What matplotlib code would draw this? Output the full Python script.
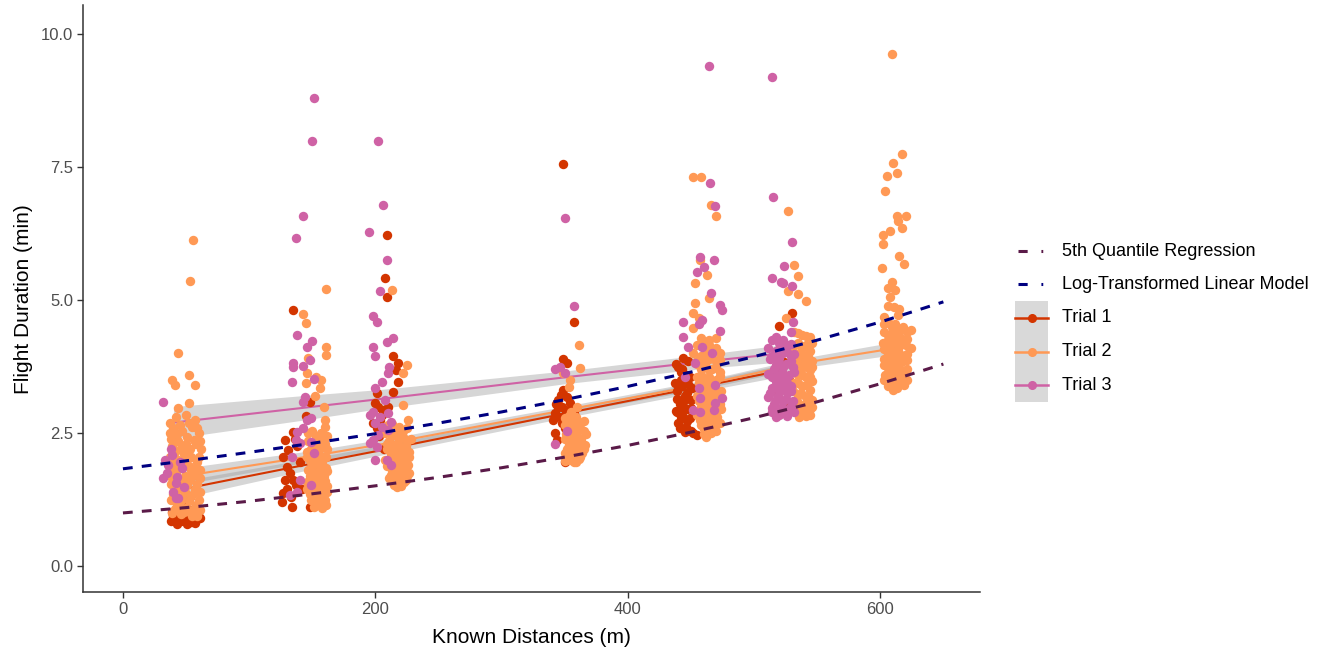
import matplotlib
matplotlib.use("Agg")
import matplotlib.pyplot as plt
from matplotlib.lines import Line2D
from matplotlib.patches import Rectangle

plt.rcParams['font.family'] = ['Liberation Sans', 'DejaVu Sans']

# ---------------- data ----------------
trial_labels = ["Trial 1", "Trial 2", "Trial 3"]
trial_colors = ["#D33500", "#FF9955", "#CF62A5"]

# Trial 1 points (distance jittered, duration)
trial1_x = [38, 42, 46, 50, 54, 58, 61, 40, 44, 48, 52, 56, 60, 39, 47, 55, 43, 51, 57, 45, 49, 53,
            135, 145, 128, 135, 131, 127, 130, 135, 128, 137, 133, 127, 134, 148, 148, 140, 138, 132, 126, 142, 136, 130,
            209, 208, 209, 214, 218, 216, 218, 214, 201, 200, 202, 206, 210, 204, 201, 205, 198, 203, 207, 212,
            349, 357, 349, 352, 349, 352, 345, 348, 354, 342, 346, 352, 357, 341, 348, 342, 344, 350, 345, 351, 355, 347, 343, 350,
            444, 440, 446, 442, 448, 439, 445, 450, 441, 447, 443, 449, 440, 446, 450, 442, 448, 444, 452, 455, 439, 451,
            438, 443, 449, 437, 443, 447, 439, 444, 450, 438, 442, 447, 441, 445,
            530, 520, 521, 524, 528, 518, 526]
trial1_y = [0.85, 0.88, 0.84, 0.86, 0.83, 0.87, 0.90, 0.95, 0.97, 0.93, 0.96, 0.98, 0.92, 1.02, 1.00, 1.05, 0.80, 0.79, 0.82, 1.10, 1.20, 1.30,
            4.81, 2.82, 2.37, 2.52, 2.18, 2.05, 1.86, 1.62, 1.62, 1.52, 1.30, 1.37, 1.11, 1.11, 3.08, 1.95, 2.25, 1.75, 1.20, 1.45, 2.40, 1.45,
            6.22, 5.41, 5.06, 3.95, 3.82, 3.68, 3.46, 3.27, 3.25, 3.06, 2.99, 2.93, 3.00, 2.74, 2.59, 2.85, 2.70, 2.45, 2.20, 2.55,
            7.56, 4.59, 3.89, 3.82, 3.31, 3.18, 3.12, 2.99, 3.06, 2.88, 2.80, 2.80, 2.88, 2.74, 2.69, 2.50, 2.37, 1.95, 3.00, 2.92, 2.95, 3.22, 3.05, 2.60,
            3.91, 3.75, 3.60, 3.50, 3.42, 3.30, 3.20, 3.12, 3.05, 2.95, 2.85, 2.78, 2.70, 2.62, 2.55, 3.65, 3.85, 3.00, 2.50, 2.46, 2.90, 3.35,
            3.80, 3.70, 3.55, 3.45, 3.38, 3.25, 3.15, 3.08, 2.98, 2.92, 2.80, 2.72, 2.60, 2.52,
            4.76, 4.51, 3.72, 3.83, 3.50, 3.30, 3.10]

# Trial 2 points
trial2_x = [55.5, 53, 44, 39, 41, 52, 57, 52, 44, 37,
            40, 47, 55, 60, 38, 44, 51, 58, 62, 41, 48, 54, 39, 45, 52, 59, 42, 49, 56, 61, 38, 44, 51, 57, 40, 47, 54, 60,
            43, 50, 56, 39, 46, 53, 59, 42, 50, 57,
            45, 52, 59, 37, 43, 50, 56, 61, 39, 46, 53, 60, 37, 44, 50, 57, 40, 47, 54, 61, 39, 46, 53, 59, 42, 49, 56, 61,
            38, 45, 52, 58, 41, 48, 55, 61,
            161, 143, 145, 161, 161, 147, 146, 145, 153, 157, 156, 152, 159, 160, 160,
            147, 153, 159, 150, 156, 162, 146, 152, 158, 149, 155, 161, 147, 153, 159, 150, 156, 162, 146, 152, 158, 149, 155,
            161, 151, 157, 148, 160,
            150, 157, 162, 147, 153, 159, 149, 155, 161, 146, 152, 158, 150, 156, 162, 148, 154, 160, 146, 151, 157, 162, 148,
            154, 160, 152, 158,
            213, 225, 222, 222, 226,
            210, 216, 222, 213, 219, 225, 209, 215, 221, 227, 212, 218, 224, 210, 216, 222, 213, 219, 225, 211, 217, 223, 215,
            220, 226, 208,
            213, 219, 225, 208, 216, 222, 228, 211, 218, 224, 209, 215, 221, 227, 212, 218, 224, 209, 215, 221, 227, 212, 218,
            224, 214, 220, 217,
            361, 362, 349, 354, 353,
            350, 356, 362, 353, 359, 365, 351, 357, 363, 354, 360, 366, 352, 358, 364, 355, 361, 350, 357, 363, 355, 360,
            353, 359, 365, 350, 356, 362, 367, 353, 359, 350, 356, 362, 365, 353, 359, 350, 356, 362, 353, 359,
            452, 458, 466, 470, 457, 463, 453, 464, 453, 452, 456, 452, 458, 470, 464,
            455, 461, 467, 473, 458, 464, 470, 455, 461, 467, 473, 458, 464, 470, 456, 462, 468, 474, 459, 465, 471, 456, 462,
            468, 474, 459, 465, 471, 457, 463, 469, 460, 466, 462,
            458, 464, 470, 452, 461, 467, 473, 455, 461, 470, 458, 464, 473, 455, 461, 467, 458, 464, 470, 455, 461, 467, 473,
            458, 464, 470, 455, 461, 467, 473, 458, 464, 470, 460,
            527, 532, 535, 527, 535, 541, 525,
            532, 538, 544, 535, 541, 531, 537, 543, 534, 540, 546, 532, 538, 544, 535, 541, 531, 537, 543, 534, 540, 546, 532,
            538, 544, 536,
            535, 541, 546, 532, 538, 544, 535, 541, 546, 532, 538, 544, 535, 541, 546, 532, 538, 544, 535, 541, 546, 532, 538,
            544, 535, 541,
            609, 617, 610, 605, 613, 604, 613, 620, 614, 608, 617, 602, 602, 615, 619, 601, 609, 606, 612, 608, 606, 611, 615,
            603, 614,
            603, 609, 615, 621, 606, 612, 618, 602, 608, 614, 620, 605, 611, 617, 603, 609, 615, 621, 606, 612, 618, 604, 610,
            616, 607, 613, 610, 619,
            606, 612, 618, 624, 603, 609, 615, 621, 606, 612, 618, 624, 603, 609, 615, 621, 606, 612, 618, 603, 609, 615, 621,
            606, 612, 618, 603, 609, 615, 621, 606, 613]
trial2_y = [6.13, 5.36, 4.00, 3.50, 3.40, 3.60, 3.40, 3.06, 2.97, 2.69,
            2.60, 2.55, 2.62, 2.50, 2.40, 2.35, 2.42, 2.30, 2.20, 2.15, 2.10, 2.05, 1.95, 1.90, 1.88, 1.95, 1.75, 1.70, 1.72,
            1.65, 1.55, 1.50, 1.52, 1.45, 1.35, 1.30, 1.32, 1.25,
            1.15, 1.10, 1.08, 1.00, 0.98, 1.02, 0.95, 2.80, 2.85, 2.75,
            2.65, 2.70, 2.60, 2.50, 2.48, 2.30, 2.38, 2.35, 2.25, 2.22, 2.20, 2.05, 2.05, 2.00, 1.98, 1.85, 1.82, 1.85, 1.80,
            1.80, 1.65, 1.60, 1.62, 1.55, 1.42, 1.40, 1.38, 1.40, 1.25, 1.20, 1.22, 1.15, 1.08, 1.02, 0.95, 1.05,
            5.21, 4.75, 4.57, 4.12, 3.97, 3.91, 3.63, 3.44, 3.55, 3.50, 3.35, 3.20, 3.00, 2.74, 2.61,
            2.50, 2.45, 2.40, 2.30, 2.25, 2.20, 2.15, 2.10, 2.05, 1.95, 1.90, 1.85, 1.80, 1.75, 1.70, 1.60, 1.55, 1.50, 1.45,
            1.40, 1.35, 1.25, 1.20, 1.15, 1.12, 1.30, 2.00, 2.30,
            2.55, 2.50, 2.45, 2.35, 2.33, 2.28, 2.20, 2.18, 2.05, 2.05, 1.98, 1.95, 1.88, 1.82, 1.78, 1.70, 1.65, 1.60, 1.58,
            1.52, 1.45, 1.40, 1.35, 1.30, 1.25, 1.18, 1.10,
            5.19, 3.78, 3.63, 3.03, 2.74,
            2.65, 2.60, 2.55, 2.45, 2.40, 2.35, 2.30, 2.25, 2.20, 2.15, 2.10, 2.05, 2.00, 1.95, 1.90, 1.85, 1.80, 1.75, 1.70,
            1.65, 1.60, 1.58, 1.52, 1.50, 1.90, 2.00,
            2.68, 2.62, 2.60, 2.50, 2.48, 2.42, 2.40, 2.35, 2.30, 2.25, 2.20, 2.15, 2.12, 2.05, 2.02, 1.98, 1.92, 1.88, 1.82,
            1.78, 1.75, 1.72, 1.68, 1.62, 1.58, 1.55, 1.48,
            4.15, 3.72, 3.63, 3.50, 3.36,
            2.78, 2.75, 2.70, 2.62, 2.58, 2.55, 2.48, 2.45, 2.40, 2.35, 2.30, 2.28, 2.20, 2.15, 2.12, 2.05, 2.02, 1.98, 1.95,
            2.20, 2.90, 3.00,
            2.82, 2.80, 2.72, 2.65, 2.65, 2.60, 2.48, 2.52, 2.50, 2.40, 2.38, 2.35, 2.20, 2.28, 2.22, 2.12, 2.10, 2.05, 2.00,
            1.96,
            7.31, 7.31, 6.80, 6.58, 5.75, 5.47, 5.32, 5.04, 4.94, 4.76, 4.66, 4.47, 4.29, 4.29, 4.25,
            4.15, 4.10, 4.05, 4.00, 3.95, 3.90, 3.85, 3.80, 3.75, 3.70, 3.65, 3.60, 3.55, 3.50, 3.45, 3.40, 3.35, 3.30, 3.25,
            3.20, 3.15, 3.10, 3.05, 3.00, 2.95, 2.90, 2.85, 2.80, 2.75, 2.70, 2.65, 2.58, 2.50, 2.42,
            4.20, 4.15, 4.10, 4.00, 3.98, 3.92, 3.88, 3.85, 3.82, 3.75, 3.70, 3.68, 3.58, 3.55, 3.52, 3.48, 3.38, 3.32, 3.28,
            3.20, 3.18, 3.12, 3.05, 3.00, 2.95, 2.90, 2.85, 2.80, 2.75, 2.70, 2.65, 2.60, 2.55, 2.48,
            6.67, 5.66, 5.45, 5.17, 5.11, 4.98, 4.66,
            4.40, 4.35, 4.30, 4.20, 4.15, 4.05, 4.00, 3.95, 3.85, 3.80, 3.75, 3.65, 3.60, 3.55, 3.45, 3.40, 3.30, 3.25, 3.20,
            3.10, 3.05, 3.00, 2.95, 2.90, 2.85, 2.80,
            4.38, 4.32, 4.20, 4.15, 4.10, 4.05, 3.95, 3.90, 3.85, 3.80, 3.72, 3.68, 3.60, 3.55, 3.48, 3.45, 3.38, 3.32, 3.22,
            3.18, 3.12, 3.08, 3.00, 2.95, 2.88, 2.82,
            9.64, 7.76, 7.59, 7.33, 7.39, 7.05, 6.58, 6.58, 6.50, 6.30, 6.35, 6.22, 6.05, 5.83, 5.68, 5.60, 5.34, 5.24, 5.20,
            5.06, 4.90, 4.87, 4.83, 4.68, 4.72,
            4.55, 4.50, 4.45, 4.40, 4.35, 4.30, 4.25, 4.20, 4.15, 4.10, 4.15, 4.05, 4.00, 3.95, 3.90, 3.85, 3.80, 3.87, 3.75,
            3.70, 3.65, 3.60, 3.55, 3.50, 3.45, 3.40, 3.31, 3.40,
            4.60, 4.55, 4.50, 4.45, 4.40, 4.38, 4.32, 4.28, 4.25, 4.20, 4.18, 4.10, 4.08, 4.05, 4.00, 3.98, 3.92, 3.90, 3.85,
            3.78, 3.75, 3.72, 3.70, 3.65, 3.60, 3.58, 3.50, 3.48, 3.42, 3.50, 3.38, 3.35]

# Trial 3 points
trial3_x = [32, 33, 39, 32, 43, 47, 48, 44, 35, 42, 42, 36, 40, 38, 45,
            151, 150, 143, 137, 138, 146, 150, 135, 135, 143, 148, 134, 151, 143, 144, 146, 149, 138, 143, 137, 140, 149, 151,
            134, 149, 138, 132, 140,
            202, 206, 195, 209, 204, 198, 201, 209, 214, 198, 200, 211, 210, 205, 200, 208, 196, 198, 204, 210, 212, 200, 205,
            202, 198, 196, 201, 210, 209, 200, 212,
            350, 357, 342, 346, 350, 352, 342,
            464, 465, 469, 457, 468, 460, 455, 466, 473, 475, 444, 459, 456, 473, 444, 448, 459, 467, 453, 445, 456, 469, 457,
            469, 475, 452, 457, 468,
            514, 515, 530, 524, 514, 521, 523, 530, 531, 529,
            514, 520, 526, 517, 523, 529, 513, 519, 525, 531, 516, 522, 528, 514, 520, 526, 517, 523, 529, 513, 519, 525, 531,
            516, 522, 528, 514, 520, 526, 532,
            517, 523, 529, 511, 520, 526, 532, 514, 520, 529, 517, 523, 532, 511, 520, 526, 517, 523, 529, 514, 520, 526, 511,
            517, 523, 529, 514, 520, 526, 517]
trial3_y = [3.08, 2.00, 2.09, 1.65, 1.67, 1.84, 1.48, 1.28, 1.75, 1.56, 1.28, 1.90, 1.40, 2.20, 1.95,
            8.80, 8.00, 6.58, 6.18, 4.34, 4.12, 4.23, 3.82, 3.74, 3.76, 3.87, 3.46, 3.51, 3.08, 3.18, 2.74, 2.78, 2.52, 2.59,
            2.37, 2.31, 2.33, 2.12, 2.05, 1.52, 1.39, 1.33, 1.62,
            8.00, 6.80, 6.28, 5.75, 5.17, 4.70, 4.60, 4.21, 4.29, 4.12, 3.95, 3.74, 3.63, 3.46, 3.35, 3.12, 2.84, 2.89, 2.80,
            2.88, 2.71, 2.69, 2.61, 2.46, 2.37, 2.31, 2.24, 2.56, 1.99, 1.99, 1.90,
            6.54, 4.89, 3.70, 3.74, 3.63, 2.54, 2.29,
            9.40, 7.20, 6.77, 5.81, 5.75, 5.62, 5.53, 5.13, 4.92, 4.81, 4.60, 4.62, 4.55, 4.42, 4.30, 4.12, 4.12, 4.00, 3.82,
            3.55, 3.35, 3.40, 3.16, 3.06, 3.16, 2.93, 2.89, 2.93,
            9.20, 6.94, 6.09, 5.64, 5.41, 5.34, 5.32, 5.26, 4.59, 4.40,
            4.25, 4.20, 4.15, 4.05, 4.00, 3.95, 3.90, 3.85, 3.80, 3.75, 3.70, 3.65, 3.60, 3.55, 3.50, 3.45, 3.40, 3.35, 3.30,
            3.25, 3.20, 3.15, 3.10, 3.05, 3.00, 2.95, 2.90, 2.85, 2.82, 2.90,
            4.30, 4.25, 4.18, 4.10, 4.08, 4.02, 3.98, 3.95, 3.92, 3.85, 3.78, 3.75, 3.65, 3.62, 3.60, 3.55, 3.48, 3.45, 3.38,
            3.35, 3.30, 3.25, 3.18, 3.12, 3.10, 3.02, 2.98, 2.92, 2.88, 2.80]

# Per-trial fitted lines with confidence band half-widths
fit1_x = [48, 135, 207, 348, 446, 522]
fit1_y = [1.45, 1.86, 2.19, 2.86, 3.32, 3.68]
fit1_se = [0.16, 0.11, 0.09, 0.08, 0.09, 0.11]
fit2_x = [50, 152, 217, 358, 463, 538, 612]
fit2_y = [1.70, 2.08, 2.34, 2.97, 3.43, 3.82, 4.10]
fit2_se = [0.15, 0.10, 0.09, 0.07, 0.08, 0.09, 0.12]
fit3_x = [40, 144, 203, 350, 461, 522]
fit3_y = [2.70, 2.98, 3.14, 3.55, 3.85, 4.00]
fit3_se = [0.30, 0.23, 0.18, 0.12, 0.13, 0.16]

# Model curves
model_x = [0, 50, 100, 150, 200, 250, 300, 350, 400, 450, 500, 550, 600, 650]
quant5_y = [1.00, 1.10, 1.22, 1.36, 1.51, 1.67, 1.85, 2.05, 2.27, 2.52, 2.79, 3.09, 3.43, 3.80]
loglm_y = [1.83, 1.98, 2.14, 2.31, 2.49, 2.69, 2.90, 3.13, 3.38, 3.65, 3.94, 4.25, 4.59, 4.97]
quant_color = "#5A1A48"
loglm_color = "#000080"
model_labels = ["5th Quantile Regression", "Log-Transformed Linear Model"]

xticks = [0, 200, 400, 600]
yticks = [0.0, 2.5, 5.0, 7.5, 10.0]

# ---------------- plot ----------------
W, H = 1327, 650
fig = plt.figure(figsize=(W / 100, H / 100), dpi=100)
ax = fig.add_axes([0.0625, 0.089, 0.676, 0.903])

fits = [(fit1_x, fit1_y, fit1_se), (fit2_x, fit2_y, fit2_se), (fit3_x, fit3_y, fit3_se)]
for (fx, fy, fs), c in zip(fits, trial_colors):
    lo = [a - b for a, b in zip(fy, fs)]
    hi = [a + b for a, b in zip(fy, fs)]
    ax.fill_between(fx, lo, hi, color="#999999", alpha=0.4, linewidth=0, zorder=1)
    ax.plot(fx, fy, color=c, lw=1.5, zorder=2)

pts = [(trial1_x, trial1_y), (trial2_x, trial2_y), (trial3_x, trial3_y)]
for (px, py), c in zip(pts, trial_colors):
    ax.scatter(px, py, s=46, color=c, linewidths=0, zorder=3)

ax.plot(model_x, quant5_y, color=quant_color, lw=2.2, dashes=(3.2, 3.0), zorder=4)
ax.plot(model_x, loglm_y, color=loglm_color, lw=2.2, dashes=(3.2, 3.0), zorder=4)

ax.set_xlim(-31.7, 679)
ax.set_ylim(-0.49, 10.55)
ax.set_xticks(xticks)
ax.set_xticklabels([str(v) for v in xticks])
ax.set_yticks(yticks)
ax.set_yticklabels([f"{v:.1f}" for v in yticks])
for s in ["top", "right"]:
    ax.spines[s].set_visible(False)
for s in ["left", "bottom"]:
    ax.spines[s].set_color("#333333")
    ax.spines[s].set_linewidth(1.1)
ax.tick_params(axis="both", colors="#333333", labelcolor="#4D4D4D", labelsize=12, length=4, width=1.0, pad=3)
ax.set_xlabel("Known Distances (m)", fontsize=15, color="black", labelpad=8)
ax.set_ylabel("Flight Duration (min)", fontsize=15, color="black", labelpad=6)

# ---------------- legend (drawn in figure pixel coordinates) ----------------
def fx(px):
    return px / W

def fy(py):
    return 1 - py / H

row_py = [251, 284, 318, 352, 385]
key_x0, key_x1, text_x = 1015, 1048, 1062
fig.add_artist(Rectangle((fx(key_x0), fy(402)), fx(key_x1) - fx(key_x0), fy(301) - fy(402),
                         transform=fig.transFigure, facecolor="#D9D9D9", edgecolor="none"))
for py, c in zip(row_py[:2], [quant_color, loglm_color]):
    fig.add_artist(Line2D([fx(key_x0 + 3), fx(key_x1 - 3)], [fy(py), fy(py)], transform=fig.transFigure,
                          color=c, lw=2.2, dashes=(3, 4.5, 0.6, 10)))
for py, c in zip(row_py[2:], trial_colors):
    fig.add_artist(Line2D([fx(key_x0), fx(key_x1)], [fy(py), fy(py)], transform=fig.transFigure,
                          color=c, lw=1.8))
    fig.add_artist(Line2D([fx((key_x0 + key_x1) / 2)], [fy(py)], transform=fig.transFigure,
                          color=c, marker="o", markersize=5.5, linestyle="none"))
for py, lab in zip(row_py, model_labels + trial_labels):
    fig.text(fx(text_x), fy(py), lab, fontsize=13, color="black", ha="left", va="center")

fig.savefig("out.png", dpi=100)
